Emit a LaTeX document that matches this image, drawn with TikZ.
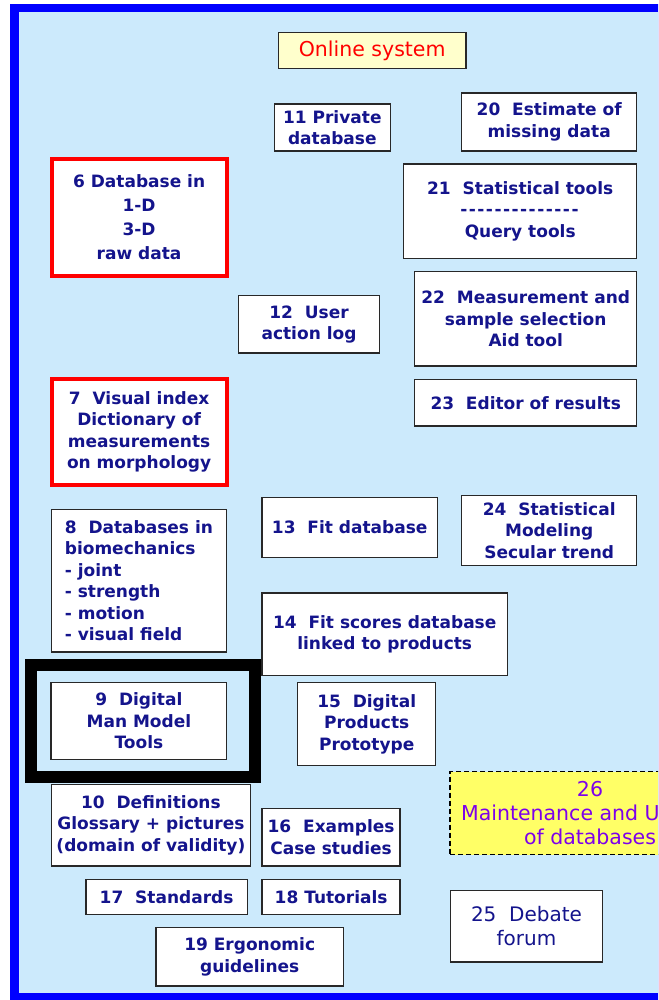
\documentclass[tikz,border=0pt]{standalone}
\usepackage{fontspec}
\setmainfont{DejaVu Sans}
\usepackage{tikz}
\usetikzlibrary{positioning}

\definecolor{frameblue}{RGB}{0,0,255}
\definecolor{panelblue}{RGB}{204,234,252}
\definecolor{navytext}{RGB}{20,20,140}
\definecolor{boxline}{RGB}{40,40,40}
\definecolor{paleyellow}{RGB}{255,255,204}
\definecolor{brightyellow}{RGB}{255,255,102}
\definecolor{violettext}{RGB}{125,0,235}

\newcommand{\dashline}{\foreach \d in {1,...,14}{-\kern1.5pt}}

\begin{document}
\begin{tikzpicture}[
  x=1pt, y=-1pt,
  box/.style={rectangle, draw=boxline, line width=1.4pt, fill=white, align=center,
              text=navytext, inner sep=1pt, font=\bfseries\fontsize{17}{21.5}\selectfont},
  redbox/.style={box, draw=red, line width=4pt},
  boxsize/.style 2 args={minimum width=#1pt, minimum height=#2pt}
]
\useasboundingbox (0,0) rectangle (658,1000);
\clip (0,0) rectangle (658,1000);

% Frame
\fill[white] (0,0) rectangle (658,1000);
\fill[frameblue] (10,4) rectangle (680,1000);
\fill[panelblue] (19,12) rectangle (680,993);

% Title
\node[box, boxsize={187.5}{35.7}, fill=paleyellow, text=red,
      font=\fontsize{20.5}{24}\selectfont] (online) at (372.2,50.5) {Online system};

% Left column
\node[redbox, boxsize={175}{117}, font=\bfseries\fontsize{17}{23.7}\selectfont]
  (n6) at (139.1,217.2) {6 Database in\\1-D\\3-D\\raw data};
\node[redbox, boxsize={175}{105.4}] (n7) at (139.1,432)
  {7~~Visual index\\Dictionary of\\measurements\\on morphology};
\node[box, boxsize={175}{142.7}, align=left] (n8) at (138.9,580.7)
  {8~~Databases in\\biomechanics\\- joint\\- strength\\- motion\\- visual field};
\node[box, boxsize={175.7}{77}] (n9) at (138.9,720.9) {9~~Digital\\Man Model\\Tools};
\draw[line width=12pt] (31,664.5) rectangle (255,776.5);
\node[box, boxsize={199}{81.4}] (n10) at (150.9,825.3)
  {10~~Definitions\\Glossary + pictures\\(domain of validity)};
\node[box, boxsize={161.5}{35.3}] (n17) at (166.6,897) {17~~Standards};
\node[box, boxsize={187.4}{58.7}] (n19) at (249.7,956.7) {19 Ergonomic\\guidelines};

% Middle column
\node[box, boxsize={116}{47}] (n11) at (332.3,127.5) {11 Private\\database};
\node[box, boxsize={140.7}{57.4}] (n12) at (309,324.3) {12~~User\\action log};
\node[box, boxsize={175.3}{59.7}] (n13) at (349.7,527.5) {13~~Fit database};
\node[box, boxsize={245.3}{82.4}] (n14) at (384.7,634.2)
  {14~~Fit scores database\\linked to products};
\node[box, boxsize={138}{83}] (n15) at (366.7,723.9) {15~~Digital\\Products\\Prototype};
\node[box, boxsize={138}{57.7}] (n16) at (331.1,837.2) {16~~Examples\\Case studies};
\node[box, boxsize={138}{35.3}] (n18) at (331.1,897) {18 Tutorials};

% Right column
\node[box, boxsize={175}{58}] (n20) at (549.2,122) {20~~Estimate of\\missing data};
\node[box, boxsize={233}{94.4}] (n21) at (520.2,211.2)
  {21~~Statistical tools\\\dashline\\Query tools};
\node[box, boxsize={222}{94.4}] (n22) at (525.7,318.8)
  {22~~Measurement and\\sample selection\\Aid tool};
\node[box, boxsize={222}{46.7}] (n23) at (525.7,402.7) {23~~Editor of results};
\node[box, boxsize={175}{70.3}] (n24) at (549.2,530.5)
  {24~~Statistical\\Modeling\\Secular trend};
\node[box, boxsize={280}{83}, draw=black, line width=1.2pt,
      dash pattern=on 5pt off 3pt, fill=brightyellow,
      text=violettext, font=\fontsize{20.5}{24}\selectfont]
  (n26) at (590,813) {26\\Maintenance and U\phantom{pdate}\\of databases};
\node[box, boxsize={151.7}{71.4}, font=\fontsize{20}{24}\selectfont]
  (n25) at (526.5,926.3) {25~~Debate\\forum};

\end{tikzpicture}
\end{document}
